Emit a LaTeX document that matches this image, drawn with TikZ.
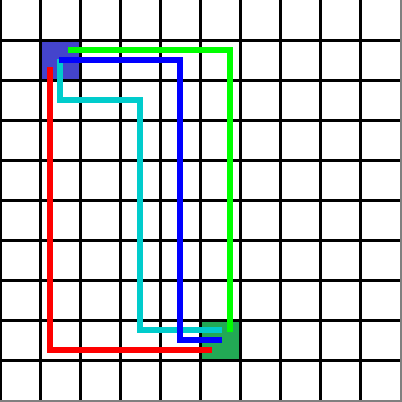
\documentclass[tikz,border=0pt]{standalone}
\definecolor{cellblue}{HTML}{4444CC}
\definecolor{cellgreen}{HTML}{22AA55}
\definecolor{pcyan}{HTML}{00CCCC}
\definecolor{pgreen}{HTML}{00FF00}
\begin{document}
\begin{tikzpicture}[x=1pt,y=-1pt,
  gridline/.style={black,line width=3pt},
  pathline/.style={line width=5.2pt,line join=miter,line cap=butt}]
\useasboundingbox (0,0) rectangle (402,402);
\fill[white] (0,0) rectangle (402,402);
% cells
\fill[cellblue] (40,40) rectangle (80,80);
\fill[cellgreen] (200,320) rectangle (240,360);
% grid
\foreach \i in {1,...,9} {
  \draw[gridline] (40*\i+0.5,0) -- (40*\i+0.5,400);
  \draw[gridline] (0,40*\i+0.5) -- (400,40*\i+0.5);
}
\draw[black,line width=1.8pt] (0.9,0) -- (0.9,400);
\draw[gray,line width=1.5pt] (400.75,0) -- (400.75,402);
\draw[gray,line width=1.5pt] (0,400.75) -- (402,400.75);
% paths
\coordinate (g0) at (68,50); \coordinate (g1) at (230,50); \coordinate (g2) at (230,332);
\coordinate (b0) at (59,60); \coordinate (b1) at (180,60); \coordinate (b2) at (180,340); \coordinate (b3) at (222,340);
\coordinate (c0) at (60,59); \coordinate (c1) at (60,100); \coordinate (c2) at (140,100); \coordinate (c3) at (140,330); \coordinate (c4) at (222,330);
\coordinate (r0) at (50,67); \coordinate (r1) at (50,350); \coordinate (r2) at (212,350);
\draw[pathline,red] (r0) -- (r1) -- (r2);
\draw[pathline,pcyan] (c0) -- (c1) -- (c2) -- (c3) -- (c4);
\draw[pathline,blue] (b0) -- (b1) -- (b2) -- (b3);
\draw[pathline,pgreen] (g0) -- (g1) -- (g2);
\end{tikzpicture}
\end{document}
